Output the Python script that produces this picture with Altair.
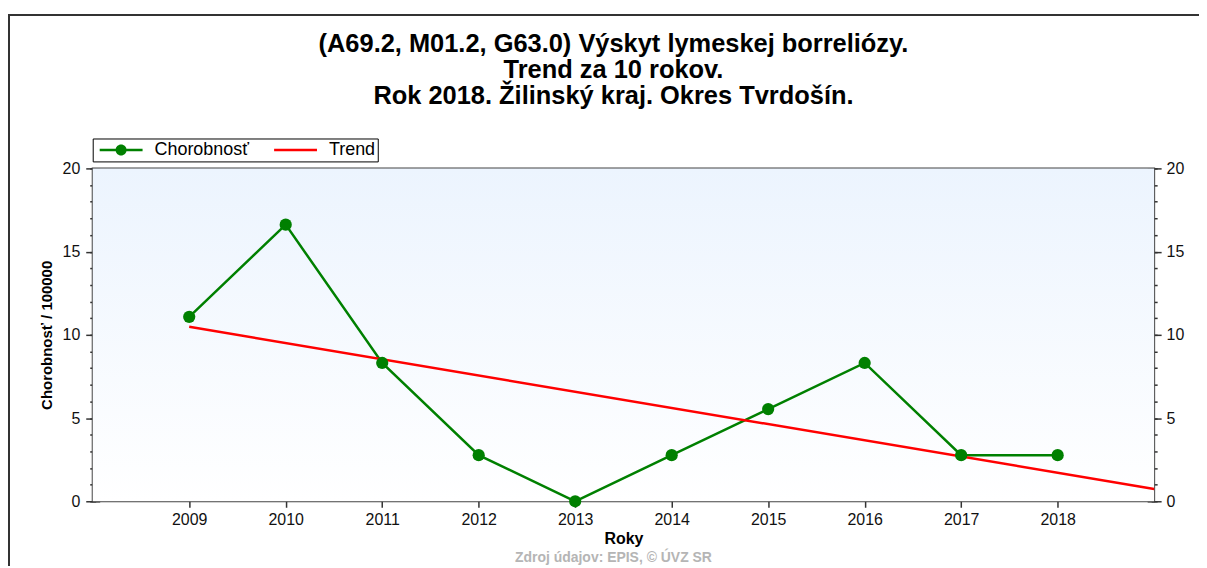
import altair as alt
import pandas as pd

# ---------------- data ----------------
years = [2009, 2010, 2011, 2012, 2013, 2014, 2015, 2016, 2017, 2018]
chorobnost = [11.08, 16.62, 8.31, 2.77, 0.0, 2.77, 5.54, 8.31, 2.77, 2.77]
trend_years = [2009, 2019]
trend_values = [10.48, 0.74]
series_names = ["Chorobnosť", "Trend"]
series_colors = ["#008000", "#ff0000"]
x_domain = [2008, 2019]
y_domain = [0, 20]
y_major = [0, 5, 10, 15, 20]
y_minor = list(range(0, 21))
title_lines = [
    "(A69.2, M01.2, G63.0) Výskyt lymeskej borreliózy.",
    "Trend za 10 rokov.",
    "Rok 2018. Žilinský kraj. Okres Tvrdošín.",
]
x_title = "Roky"
y_title = "Chorobnosť / 100000"
source_text = "Zdroj údajov: EPIS, © ÚVZ SR"

# ---------------- layout ----------------
W, H = 1065, 334
FONT = "Liberation Sans"
TICK = "#333333"

df_c = pd.DataFrame({"rok": years, "hodnota": chorobnost, "rad": series_names[0]})
df_t = pd.DataFrame({"rok": trend_years, "hodnota": trend_values, "rad": series_names[1]})
df = pd.concat([df_c, df_t], ignore_index=True)
one = pd.DataFrame({"k": [0]})

xs = alt.Scale(domain=x_domain, nice=False, zero=False)
ys = alt.Scale(domain=y_domain, nice=False, zero=True)
cscale = alt.Scale(domain=series_names, range=series_colors)

# legend symbol paths (units of 6px)
path_c = ("M-1,-0.2L6.17,-0.2L6.17,0.2L-1,0.2Z "
          "M1.66,0A0.92,0.92,0,1,1,3.5,0A0.92,0.92,0,1,1,1.66,0Z")
path_t = "M-1,-0.2L6.17,-0.2L6.17,0.2L-1,0.2Z"
shape_scale = alt.Scale(domain=series_names, range=[path_c, path_t])

legend_kw = dict(
    title=None, orient="none", legendX=0, legendY=-30, direction="horizontal",
    strokeColor="#000000", fillColor="#ffffff", padding=2.5,
    symbolSize=144, symbolStrokeWidth=0, symbolOffset=1.5, symbolOpacity=1,
    labelFont=FONT, labelFontSize=18, labelColor="#000000", labelOffset=40,
    columnPadding=20, labelLimit=300, columns=2, gridAlign="all",
)

frame = alt.Chart(one).mark_rect(filled=False, stroke="#333333", strokeWidth=2).encode(
    x=alt.value(-84), x2=alt.value(W + 300), y=alt.value(-154), y2=alt.value(H + 300)
)

bg = alt.Chart(one).mark_rect(
    fill=alt.LinearGradient(
        gradient="linear", x1=0, y1=0, x2=0, y2=1,
        stops=[alt.GradientStop(color="#ecf4fe", offset=0),
               alt.GradientStop(color="#ffffff", offset=1)],
    )
).encode(x=alt.value(0), x2=alt.value(W), y=alt.value(0), y2=alt.value(H))

legend_layer = alt.Chart(df).mark_point(filled=True, size=0, opacity=1).encode(
    x=alt.X("rok:Q", scale=xs, axis=None),
    y=alt.Y("hodnota:Q", scale=ys, axis=alt.Axis(
        orient="left", values=y_minor, offset=-3, tickSize=6, tickWidth=1.5,
        tickColor=TICK, labels=False, domain=False, grid=False, title=None)),
    color=alt.Color("rad:N", scale=cscale, legend=alt.Legend(**legend_kw)),
    shape=alt.Shape("rad:N", scale=shape_scale, legend=alt.Legend(**legend_kw)),
)

lines = alt.Chart(df).mark_line(strokeWidth=2.5).encode(
    x=alt.X("rok:Q", scale=xs, axis=alt.Axis(
        orient="bottom", values=years, format="d", offset=-6, tickSize=12, tickWidth=1.5,
        tickColor=TICK, domain=False, grid=False, labelFont=FONT, labelFontSize=16,
        labelColor="#111111", labelPadding=4, title=x_title, titleFont=FONT,
        titleFontSize=16, titleFontWeight="bold", titleColor="#000000", titlePadding=3)),
    y=alt.Y("hodnota:Q", scale=ys, axis=alt.Axis(
        orient="left", values=y_major, offset=-7, tickSize=14, tickWidth=1.5,
        tickColor=TICK, domain=False, grid=False, labelFont=FONT, labelFontSize=16,
        labelColor="#111111", labelPadding=6, title=y_title, titleFont=FONT,
        titleFontSize=15, titleFontWeight="bold", titleColor="#000000", titlePadding=8)),
    color=alt.Color("rad:N", scale=cscale, legend=alt.Legend(**legend_kw)),
)

points = alt.Chart(df_c).mark_point(filled=True, size=150, opacity=1).encode(
    x=alt.X("rok:Q", scale=xs, axis=alt.Axis(
        orient="top", values=years, offset=-7, tickSize=7, tickWidth=1.5, tickColor=TICK,
        labels=False, domain=False, grid=False, title=None)),
    y=alt.Y("hodnota:Q", scale=ys, axis=alt.Axis(
        orient="right", values=y_major, offset=-7, tickSize=14, tickWidth=1.5,
        tickColor=TICK, domain=False, grid=False, labelFont=FONT, labelFontSize=16,
        labelColor="#111111", labelPadding=5, title=None)),
    color=alt.Color("rad:N", scale=cscale, legend=alt.Legend(**legend_kw)),
)

right_minor = alt.Chart(df_c).mark_point(filled=True, size=0, opacity=1).encode(
    x=alt.X("rok:Q", scale=xs, axis=None),
    y=alt.Y("hodnota:Q", scale=ys, axis=alt.Axis(
        orient="right", values=y_minor, offset=-3, tickSize=6, tickWidth=1.5,
        tickColor=TICK, labels=False, domain=False, grid=False, title=None)),
)

source = alt.Chart(one).mark_text(
    text=source_text, font=FONT, fontSize=14, fontWeight="bold", color="#b5b5b5",
    align="center", baseline="top"
).encode(x=alt.value(W / 2 - 10), y=alt.value(H + 50))

chart = alt.layer(frame, bg, legend_layer, lines, points, right_minor, source).resolve_scale(
    x="independent", y="independent"
).properties(
    width=W, height=H,
    autosize=alt.AutoSizeParams(type="none"),
    padding={"left": 85, "top": 160, "right": 45, "bottom": 64},
    title=alt.TitleParams(
        text=title_lines, anchor="middle", frame="group", font=FONT, fontSize=25.5,
        fontWeight="bold", color="#000000", lineHeight=26, offset=0, dx=-10, dy=96),
).configure_view(stroke="#444444", strokeWidth=2)

chart.save("out.html", embed_options={"renderer": "svg", "actions": False})
